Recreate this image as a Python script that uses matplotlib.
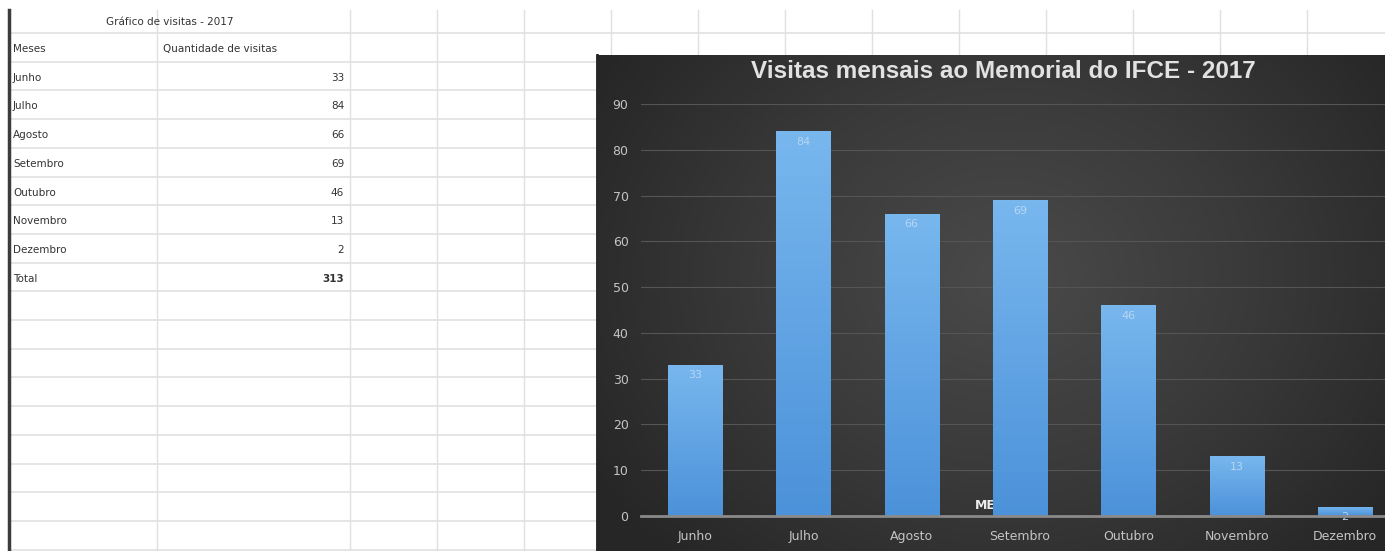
import numpy as np
import matplotlib.pyplot as plt
from matplotlib.colors import LinearSegmentedColormap
import matplotlib.transforms as mtransforms

# data
meses = ["Junho", "Julho", "Agosto", "Setembro", "Outubro", "Novembro", "Dezembro"]
visitas = [33, 84, 66, 69, 46, 13, 2]
total_label = "Total"
total = 313
sheet_title = "Gráfico de visitas - 2017"
col_headers = ["Meses", "Quantidade de visitas"]
chart_title = "Visitas mensais ao Memorial do IFCE - 2017"
axis_title = "MESES"
yticks = [0, 10, 20, 30, 40, 50, 60, 70, 80, 90]

W, H = 1385, 551
fig = plt.figure(figsize=(W / 100, H / 100), dpi=100)
fig.patch.set_facecolor('white')

# spreadsheet behind the chart, in pixel coords
sheet = fig.add_axes([0, 0, 1, 1])
sheet.set_xlim(0, W)
sheet.set_ylim(H, 0)
sheet.axis('off')
grid_c = '#e0e0e0'
col_x = [157, 350, 437, 524, 611, 698, 785, 872, 959, 1046, 1133, 1220, 1307]
for cx in col_x:
    sheet.plot([cx, cx], [10, H], color=grid_c, lw=1)
row_h = 28.7
row_y = 33 + row_h * np.arange(19)
for ry in row_y:
    sheet.plot([10, W], [ry, ry], color=grid_c, lw=1.2)
sheet.plot([9, 9], [10, H], color='#3c3c3c', lw=2.5)

txt = dict(fontsize=7.5, color='#333333', va='center', family='DejaVu Sans')
sheet.text(170, 22, sheet_title, ha='center', **txt)
sheet.text(13, row_y[0] + 16, col_headers[0], ha='left', **txt)
sheet.text(163, row_y[0] + 16, col_headers[1], ha='left', **txt)
for i, (m, v) in enumerate(zip(meses, visitas)):
    yy = row_y[i + 1] + 16
    sheet.text(13, yy, m, ha='left', **txt)
    sheet.text(344, yy, str(v), ha='right', **txt)
yy = row_y[len(meses) + 1] + 16
sheet.text(13, yy, total_label, ha='left', **txt)
sheet.text(344, yy, str(total), ha='right', fontweight='bold', **txt)

# dark chart panel with radial gradient
bg = fig.add_axes([597 / W, 0, (W - 597) / W, (H - 55) / H])
gy, gx = np.mgrid[0:1:200j, 0:1:400j]
r = np.sqrt(((gx - 0.52) * 1.3) ** 2 + (gy - 0.45) ** 2)
bg_cmap = LinearSegmentedColormap.from_list('bg', ['#4a4a4a', '#3a3a3a', '#262626'])
bg.imshow(r, cmap=bg_cmap, aspect='auto', extent=[0, 1, 0, 1], vmin=0, vmax=0.8)
bg.axis('off')
sheet.plot([597, 597], [55, H], color='#1a1a1a', lw=2, zorder=5)

fig.text(1003 / W, 1 - 72 / H, chart_title, ha='center', va='center',
         color='#e2e2e2', fontsize=17.5, fontweight='bold', family='Liberation Sans')

# bar plot
ax = fig.add_axes([641 / W, (H - 516) / H, (W - 641) / W, (516 - 104) / H])
ax.set_facecolor('none')
x = np.arange(len(meses))
bars = ax.bar(x, visitas, width=0.5, color='#5a9fe0', zorder=3)
bar_cmap = LinearSegmentedColormap.from_list('bar', ['#78b7ee', '#4c92da'])
grad = np.linspace(0, 1, 100).reshape(-1, 1)
for b in bars:
    x0, w, h = b.get_x(), b.get_width(), b.get_height()
    im = ax.imshow(grad, cmap=bar_cmap, aspect='auto', extent=[x0, x0 + w, 0, h], zorder=3.1)
    im.set_clip_path(b)

for i, v in enumerate(visitas):
    ax.text(i, v - 2.3, str(v), ha='center', va='center', color='#b8d6f3',
            fontsize=8, zorder=4)

ax.text(0.449, 2.2, axis_title, transform=mtransforms.blended_transform_factory(ax.transAxes, ax.transData),
        ha='left', va='center', color='#ececec', fontsize=9, fontweight='bold', zorder=2.5)

ax.set_xlim(-0.5, 6.37)
ax.set_ylim(0, 90)
ax.set_yticks(yticks)
ax.set_xticks(x)
ax.set_xticklabels(meses)
ax.grid(axis='y', color='#555555', lw=0.8)
ax.set_axisbelow(True)
for s in ['top', 'right', 'left']:
    ax.spines[s].set_visible(False)
ax.spines['bottom'].set_color('#8a8a8a')
ax.spines['bottom'].set_linewidth(2)
ax.spines['bottom'].set_zorder(4)
ax.tick_params(length=0, colors='#c4c4c4', labelsize=9)
ax.tick_params(axis='y', pad=9)
ax.tick_params(axis='x', pad=10)

fig.savefig('out.png', dpi=100)
